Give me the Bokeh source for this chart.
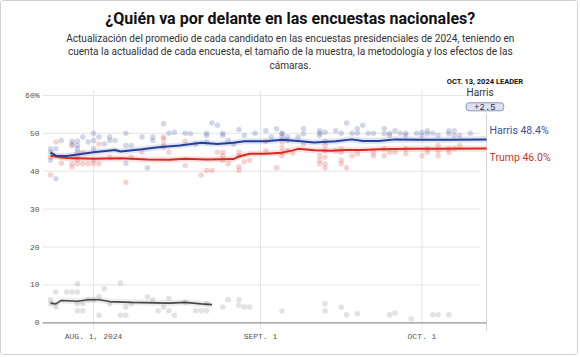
import pandas as pd
from bokeh.plotting import figure
from bokeh.models import Label, FixedTicker, Range1d
from bokeh.embed import file_html
from bokeh.resources import INLINE

# ---------------- data ----------------
YEAR = "2024"
BASE_DATE = "2024-08-01"

# Harris individual polls (date MM-DD, %)
HARRIS_POLL_DATES = [
    "07-24", "07-24", "07-24", "07-25", "07-25", "07-26", "07-28", "07-28",
    "07-29", "07-29", "07-29", "07-29", "07-30", "07-31", "08-01", "08-01",
    "08-01", "08-02", "08-03", "08-04", "08-04", "08-05", "08-07", "08-07",
    "08-07", "08-08", "08-10", "08-11", "08-12", "08-12", "08-14", "08-15",
    "08-16", "08-18", "08-19", "08-20", "08-22", "08-22", "08-22", "08-23",
    "08-24", "08-25", "08-25", "08-26", "08-27", "08-28", "08-29", "08-31",
    "09-02", "09-03", "09-04", "09-05", "09-05", "09-05", "09-06", "09-06",
    "09-08", "09-09", "09-09", "09-12", "09-12", "09-12", "09-13", "09-13",
    "09-15", "09-16", "09-17", "09-18", "09-19", "09-19", "09-20", "09-21",
    "09-22", "09-24", "09-24", "09-25", "09-25", "09-26", "09-27", "09-28",
    "09-28", "09-30", "10-01", "10-01", "10-02", "10-02", "10-03", "10-04",
    "10-06", "10-06", "10-07", "10-07", "10-08", "10-10",
]
HARRIS_POLL_VALUES = [
    45.9, 45.0, 42.9, 45.9, 38.0, 48.1, 47.9, 46.8,
    47.9, 46.8, 45.9, 45.0, 49.0, 47.7, 50.0, 48.1,
    45.9, 49.0, 47.2, 49.0, 48.1, 48.1, 50.0, 46.8,
    42.1, 46.8, 49.0, 40.9, 49.0, 48.1, 52.5, 50.0,
    50.3, 50.0, 49.9, 47.2, 50.0, 49.4, 47.7, 52.7,
    52.1, 50.0, 49.4, 48.1, 47.2, 51.0, 49.4, 50.0,
    50.7, 49.0, 51.2, 50.0, 49.9, 49.0, 49.0, 48.1,
    49.0, 51.2, 49.9, 50.7, 50.0, 49.4, 50.3, 47.9,
    50.7, 50.0, 52.7, 50.0, 51.2, 50.0, 52.1, 50.0,
    50.0, 51.2, 49.9, 50.0, 49.4, 50.7, 50.0, 50.0,
    49.4, 50.0, 50.3, 49.4, 50.7, 49.9, 50.0, 49.4,
    50.7, 49.9, 50.7, 49.4, 49.4, 50.0,
]

# Trump individual polls
TRUMP_POLL_DATES = [
    "07-24", "07-24", "07-25", "07-26", "07-26", "07-28", "07-28", "07-28",
    "07-28", "07-29", "07-29", "07-29", "07-30", "07-30", "07-31", "08-01",
    "08-01", "08-02", "08-02", "08-04", "08-07", "08-08", "08-10", "08-14",
    "08-14", "08-14", "08-14", "08-15", "08-18", "08-18", "08-21", "08-22",
    "08-23", "08-24", "08-25", "08-25", "08-25", "08-26", "08-28", "08-28",
    "08-28", "08-28", "08-29", "08-30", "09-02", "09-02", "09-04", "09-05",
    "09-05", "09-05", "09-05", "09-06", "09-07", "09-09", "09-12", "09-12",
    "09-12", "09-13", "09-13", "09-13", "09-13", "09-13", "09-15", "09-16",
    "09-16", "09-16", "09-16", "09-17", "09-18", "09-19", "09-22", "09-22",
    "09-24", "09-24", "09-25", "09-26", "09-28", "09-28", "10-01", "10-02",
    "10-02", "10-04", "10-04", "10-04", "10-06", "10-06", "10-07", "10-08",
]
TRUMP_POLL_VALUES = [
    43.7, 39.0, 47.7, 43.7, 42.1, 47.2, 43.7, 42.0,
    41.1, 43.7, 42.9, 42.0, 45.0, 42.0, 42.0, 42.9,
    42.0, 47.2, 42.0, 43.7, 37.1, 43.7, 45.0, 49.0,
    48.5, 47.2, 46.3, 45.0, 47.9, 41.5, 39.0, 40.2,
    40.2, 45.0, 45.0, 44.1, 42.9, 42.0, 45.0, 44.1,
    41.2, 40.2, 42.5, 42.9, 47.9, 45.4, 40.9, 47.7,
    46.3, 45.0, 44.1, 45.4, 44.8, 47.2, 44.1, 42.9,
    42.0, 46.8, 45.4, 43.7, 42.0, 40.9, 45.4, 45.9,
    45.0, 42.9, 42.0, 40.9, 44.1, 44.6, 45.0, 44.1,
    45.9, 44.1, 45.0, 45.0, 45.9, 44.6, 44.1, 45.9,
    45.0, 46.8, 45.4, 44.1, 45.9, 45.0, 45.9, 46.8,
]

# Third-party (grey) individual polls
OTHER_POLL_DATES = [
    "07-24", "07-24", "07-25", "07-25", "07-27", "07-28", "07-29", "07-29",
    "07-29", "07-29", "07-30", "07-30", "07-31", "08-01", "08-02", "08-02",
    "08-03", "08-04", "08-06", "08-06", "08-07", "08-07", "08-08", "08-11",
    "08-12", "08-13", "08-14", "08-15", "08-15", "08-16", "08-18", "08-20",
    "08-21", "08-22", "08-22", "08-25", "08-26", "08-28", "08-28", "08-29",
    "08-30", "09-05", "09-13", "09-13", "09-16", "09-17", "09-19", "09-25",
    "09-26", "09-29", "10-03", "10-04", "10-06",
]
OTHER_POLL_VALUES = [
    6.1, 5.0, 8.1, 4.2, 8.1, 8.1, 10.3, 8.1,
    5.0, 3.2, 5.0, 3.2, 6.1, 6.1, 6.9, 2.0,
    9.0, 5.0, 10.5, 2.0, 4.2, 2.0, 5.0, 6.9,
    6.1, 3.2, 4.2, 6.5, 3.2, 2.0, 5.4, 3.2,
    3.2, 3.2, 5.0, 4.2, 6.1, 6.1, 4.6, 4.2,
    4.2, 3.1, 5.0, 3.1, 4.1, 2.1, 2.4, 2.1,
    2.6, 1.0, 2.1, 2.1, 2.1,
]

# Polling averages
HARRIS_AVG_DATES = [
    "07-24", "07-25", "07-27", "08-01", "08-05", "08-06", "08-10", "08-13",
    "08-17", "08-21", "08-24", "08-27", "08-29", "09-02", "09-05", "09-08",
    "09-11", "09-15", "09-18", "09-20", "09-23", "09-26", "10-01", "10-06",
    "10-13",
]
HARRIS_AVG_VALUES = [
    44.9, 44.1, 44.0, 45.0, 45.6, 45.2, 45.8, 46.3,
    46.8, 47.5, 47.2, 47.5, 47.9, 47.9, 48.3, 48.0,
    47.6, 47.9, 48.4, 48.0, 48.0, 48.4, 48.3, 48.3,
    48.4,
]
TRUMP_AVG_DATES = [
    "07-24", "07-26", "07-27", "08-01", "08-06", "08-11", "08-15", "08-18",
    "08-22", "08-27", "08-28", "08-30", "09-02", "09-05", "09-07", "09-08",
    "09-11", "09-14", "09-17", "09-20", "09-23", "09-29", "10-03", "10-13",
]
TRUMP_AVG_VALUES = [
    44.1, 43.7, 43.5, 43.3, 43.4, 43.1, 43.0, 43.3,
    43.1, 43.2, 43.9, 44.6, 44.6, 44.9, 45.5, 45.9,
    45.5, 45.4, 45.6, 45.6, 45.8, 45.9, 45.9, 46.0,
]
OTHER_AVG_DATES = [
    "07-24", "07-25", "07-26", "07-29", "07-31", "08-02", "08-04", "08-08",
    "08-15", "08-18", "08-21", "08-23",
]
OTHER_AVG_VALUES = [
    5.2, 5.0, 5.9, 5.7, 6.1, 6.1, 5.6, 5.4,
    5.2, 5.4, 5.0, 4.8,
]

LEADER_DATE = "10-13"
LEADER_NAME = "Harris"
LEADER_MARGIN = "+2.5"

X_TICK_DATES = ["08-01", "09-01", "10-01"]
X_TICK_LABELS = ["AUG. 1, 2024", "SEPT. 1", "OCT. 1"]
Y_TICKS = [0, 10, 20, 30, 40, 50, 60]
Y_TICK_LABELS = ["0", "10", "20", "30", "40", "50", "60%"]

TITLE = "¿Quién va por delante en las encuestas nacionales?"
SUBTITLE = [
    "Actualización del promedio de cada candidato en las encuestas presidenciales de 2024, teniendo en",
    "cuenta la actualidad de cada encuesta, el tamaño de la muestra, la metodología y los efectos de las",
    "cámaras.",
]


def to_days(dates):
    base = pd.Timestamp(BASE_DATE)
    return [float((pd.Timestamp(f"{YEAR}-{d}") - base).days) for d in dates]


hx, tx, ox = to_days(HARRIS_POLL_DATES), to_days(TRUMP_POLL_DATES), to_days(OTHER_POLL_DATES)
hax, tax, oax = to_days(HARRIS_AVG_DATES), to_days(TRUMP_AVG_DATES), to_days(OTHER_AVG_DATES)
tick_x = to_days(X_TICK_DATES)
leader_x = to_days([LEADER_DATE])[0]

# ---------------- figure ----------------
X0, X1 = -9.49, 90.27
Y0, Y1 = -2.03, 84.78

p = figure(width=578, height=355, output_backend="svg", toolbar_location=None,
           title=None, x_range=Range1d(X0, X1), y_range=Range1d(Y0, Y1),
           min_border=0, min_border_left=41, min_border_bottom=26)
p.styles = {"border": "1px solid #d2d2d2", "border-radius": "3px"}
p.xgrid.visible = False
p.ygrid.visible = False
p.outline_line_color = None
p.background_fill_color = "white"
p.border_fill_color = "white"

AXIS_FONT = "Liberation Mono"
for ax in (p.xaxis[0], p.yaxis[0]):
    ax.axis_line_color = None
    ax.major_tick_line_color = None
    ax.minor_tick_line_color = None
    ax.major_tick_in = 0
    ax.major_tick_out = 0
    ax.minor_tick_in = 0
    ax.minor_tick_out = 0
    ax.major_label_text_font = AXIS_FONT
    ax.major_label_text_color = "#555555"
    ax.major_label_text_font_size = "8px"

p.xaxis.ticker = FixedTicker(ticks=tick_x)
p.xaxis.major_label_overrides = {x: lab for x, lab in zip(tick_x, X_TICK_LABELS)}
p.xaxis.major_label_standoff = 1
p.yaxis.ticker = FixedTicker(ticks=Y_TICKS)
p.yaxis.major_label_overrides = {y: lab for y, lab in zip(Y_TICKS, Y_TICK_LABELS)}
p.yaxis.major_label_standoff = 3

GRID_END = 71.8
# gridlines
p.segment(x0=[X0] * len(Y_TICKS), y0=Y_TICKS, x1=[GRID_END] * len(Y_TICKS), y1=Y_TICKS,
          line_color="#e4e4e4", line_width=1)
p.segment(x0=tick_x, y0=[-1.6] * len(tick_x), x1=tick_x, y1=[61.3] * len(tick_x),
          line_color="#e4e4e4", line_width=1)
# baseline
p.segment(x0=[X0], y0=[0], x1=[leader_x], y1=[0], line_color="#999999", line_width=1.3)
# dotted "today" line
p.segment(x0=[leader_x], y0=[55.2], x1=[leader_x], y1=[-2.7], line_color="#aaaaaa",
          line_width=1, line_dash="1 1")

# uncertainty bands
BAND = 0.8
p.varea(x=hax, y1=[v - BAND for v in HARRIS_AVG_VALUES], y2=[v + BAND for v in HARRIS_AVG_VALUES],
        fill_color="#a9b3e0", fill_alpha=0.35)
p.varea(x=tax, y1=[v - BAND for v in TRUMP_AVG_VALUES], y2=[v + BAND for v in TRUMP_AVG_VALUES],
        fill_color="#f2a5a5", fill_alpha=0.35)
p.varea(x=oax, y1=[v - BAND for v in OTHER_AVG_VALUES], y2=[v + BAND for v in OTHER_AVG_VALUES],
        fill_color="#cccccc", fill_alpha=0.35)

# polls
p.scatter(ox, OTHER_POLL_VALUES, size=5.5, fill_color="#8a8a8a", fill_alpha=0.25, line_color=None)
p.scatter(tx, TRUMP_POLL_VALUES, size=5.5, fill_color="#e0605a", fill_alpha=0.28, line_color=None)
p.scatter(hx, HARRIS_POLL_VALUES, size=5.5, fill_color="#4a5aa8", fill_alpha=0.25, line_color=None)

# averages
p.line(oax, OTHER_AVG_VALUES, line_color="#474747", line_width=1.6)
p.line(tax, TRUMP_AVG_VALUES, line_color="#d42a20", line_width=2)
p.line(hax, HARRIS_AVG_VALUES, line_color="#23409a", line_width=2)

# end labels
p.add_layout(Label(x=hax[-1], y=HARRIS_AVG_VALUES[-1], x_offset=3, y_offset=9,
                   text=f"Harris {HARRIS_AVG_VALUES[-1]:.1f}%", text_font="Roboto",
                   text_font_size="10.5px", text_color="#3b4ea0",
                   text_align="left", text_baseline="middle"))
p.add_layout(Label(x=tax[-1], y=TRUMP_AVG_VALUES[-1], x_offset=3, y_offset=-9,
                   text=f"Trump {TRUMP_AVG_VALUES[-1]:.1f}%", text_font="Roboto",
                   text_font_size="10.5px", text_color="#c0392b",
                   text_align="left", text_baseline="middle"))

# leader box
p.add_layout(Label(x=leader_x - 0.3, y=63.7, text="OCT. 13, 2024 LEADER", text_font="Roboto",
                   text_font_style="bold", text_font_size="7.5px", text_color="#111111",
                   text_align="center", text_baseline="middle"))
p.add_layout(Label(x=leader_x - 1.2, y=60.8, text=LEADER_NAME, text_font="Roboto",
                   text_font_size="10px", text_color="#333333",
                   text_align="center", text_baseline="middle"))
p.add_layout(Label(x=leader_x - 0.3, y=57.0, text=LEADER_MARGIN, text_font=AXIS_FONT,
                   text_font_size="9px", text_color="#333333",
                   text_align="center", text_baseline="middle",
                   background_fill_color="#dfe1f5", border_line_color="#8d93c6",
                   border_line_width=1, border_radius=3, padding=(8, 1)))

# title and subtitle
TITLE_X = 36.54
p.add_layout(Label(x=TITLE_X, y=80.3, text=TITLE, text_font="Roboto", text_font_style="bold",
                   text_font_size="16px", text_color="#111111",
                   text_align="center", text_baseline="middle"))
for txt, yy in zip(SUBTITLE, [75.0, 71.5, 67.9]):
    p.add_layout(Label(x=TITLE_X, y=yy, text=txt, text_font="Roboto",
                       text_font_size="10.1px", text_color="#333333",
                       text_align="center", text_baseline="middle"))

open("out.html", "w").write(file_html(p, INLINE))
